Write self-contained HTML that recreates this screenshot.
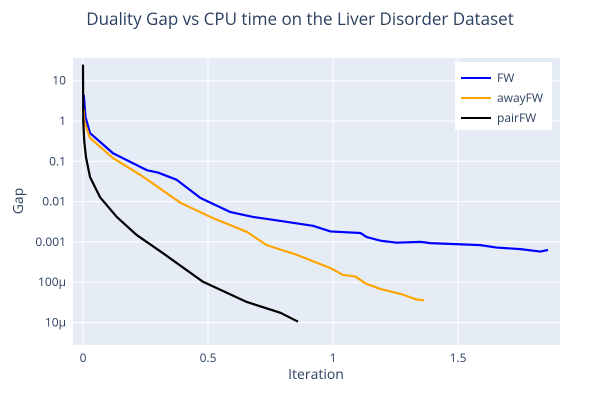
<!DOCTYPE html>
<html><head><meta charset="utf-8"><style>
body{margin:0;background:#fff}
svg text{font-family:"Open Sans","Liberation Sans",sans-serif;fill:#2a3f5f}
</style></head><body>
<svg id="chart" width="600" height="400">
<rect x="0" y="0" width="600" height="400" fill="#fff"/>
<rect x="73" y="58" width="487" height="287" fill="#e5ecf6"/>
<g id="grid"></g>
<g id="series"></g>
<g id="ticks"></g>
<text x="300" y="25" text-anchor="middle" font-size="17">Duality Gap vs CPU time on the Liver Disorder Dataset</text>
<text x="316" y="379" text-anchor="middle" font-size="14">Iteration</text>
<text x="23" y="201" text-anchor="middle" font-size="14" transform="rotate(-90 23 201)">Gap</text>
<g>
<rect x="455" y="62" width="97" height="68" fill="#fff"/>
<g id="legend"></g>
</g>
</svg>
<script>
const xTicks=[0,0.5,1,1.5];
const xTickLabels=["0","0.5","1","1.5"];
const yTicks=[1,0,-1,-2,-3,-4,-5];
const yTickLabels=["10","1","0.1","0.01","0.001","100μ","10μ"];
const seriesNames=["FW","awayFW","pairFW"];
const seriesColors=["#0000ff","#ffa500","#000000"];
const fwX=[0.003,0.005,0.01,0.028,0.12,0.255,0.3,0.375,0.47,0.59,0.68,0.79,0.92,0.99,1.11,1.135,1.19,1.255,1.35,1.39,1.59,1.655,1.75,1.83,1.86];
const fwY=[0.65,0.5,0.1,-0.3,-0.8,-1.22,-1.28,-1.46,-1.91,-2.26,-2.38,-2.48,-2.6,-2.74,-2.78,-2.88,-2.97,-3.02,-3.0,-3.03,-3.08,-3.14,-3.18,-3.24,-3.2];
const awX=[0.003,0.005,0.01,0.028,0.12,0.23,0.27,0.39,0.52,0.655,0.735,0.855,0.99,1.04,1.09,1.13,1.19,1.27,1.335,1.365];
const awY=[0.3,0,-0.1,-0.42,-0.92,-1.34,-1.51,-2.03,-2.41,-2.75,-3.08,-3.32,-3.65,-3.82,-3.86,-4.03,-4.17,-4.29,-4.43,-4.45];
const pfX=[0,0.001,0.005,0.012,0.028,0.068,0.135,0.215,0.32,0.48,0.655,0.79,0.86];
const pfY=[1.4,0,-0.5,-0.9,-1.39,-1.89,-2.38,-2.83,-3.28,-3.99,-4.49,-4.76,-4.98];
const NS="http://www.w3.org/2000/svg";
const xs=v=>83+v*250;
const ys=v=>121-v*40.3;
function mk(tag,attrs,parent){const e=document.createElementNS(NS,tag);for(const k in attrs)e.setAttribute(k,attrs[k]);parent.appendChild(e);return e;}
const grid=document.getElementById('grid'),ticks=document.getElementById('ticks');
xTicks.forEach((t,i)=>{
 const l=mk('line',{x1:xs(t),x2:xs(t),y1:58,y2:345,stroke:'#fff','stroke-width':1},grid);
 
 
 const tx=mk('text',{x:xs(t),y:362,'text-anchor':'middle','font-size':12},ticks);
 tx.textContent=xTickLabels[i];
 
 
});
yTicks.forEach((t,i)=>{
 const l=mk('line',{x1:73,x2:560,y1:ys(t),y2:ys(t),stroke:'#fff','stroke-width':1},grid);
 
 
 const tx=mk('text',{x:66,y:ys(t)+4,'text-anchor':'end','font-size':12},ticks);
 tx.textContent=yTickLabels[i];
 
 
});
const sg=document.getElementById('series');
[[fwX,fwY],[awX,awY],[pfX,pfY]].forEach((d,s)=>{
 const pts=d[0].map((x,i)=>xs(x)+','+ys(d[1][i])).join(' ');
 const p=mk('polyline',{points:pts,fill:'none',stroke:seriesColors[s],'stroke-width':2.2,'stroke-linejoin':'round'},sg);
 
 
});
const lg=document.getElementById('legend');
seriesNames.forEach((n,i)=>{
 const y=78+i*20;
 const l=mk('line',{x1:461,x2:491,y1:y,y2:y,stroke:seriesColors[i],'stroke-width':2},lg);
 
 
 const t=mk('text',{x:497,y:y+4,'font-size':12},lg);
 t.textContent=n;
 
 
});
</script>
</body></html>
